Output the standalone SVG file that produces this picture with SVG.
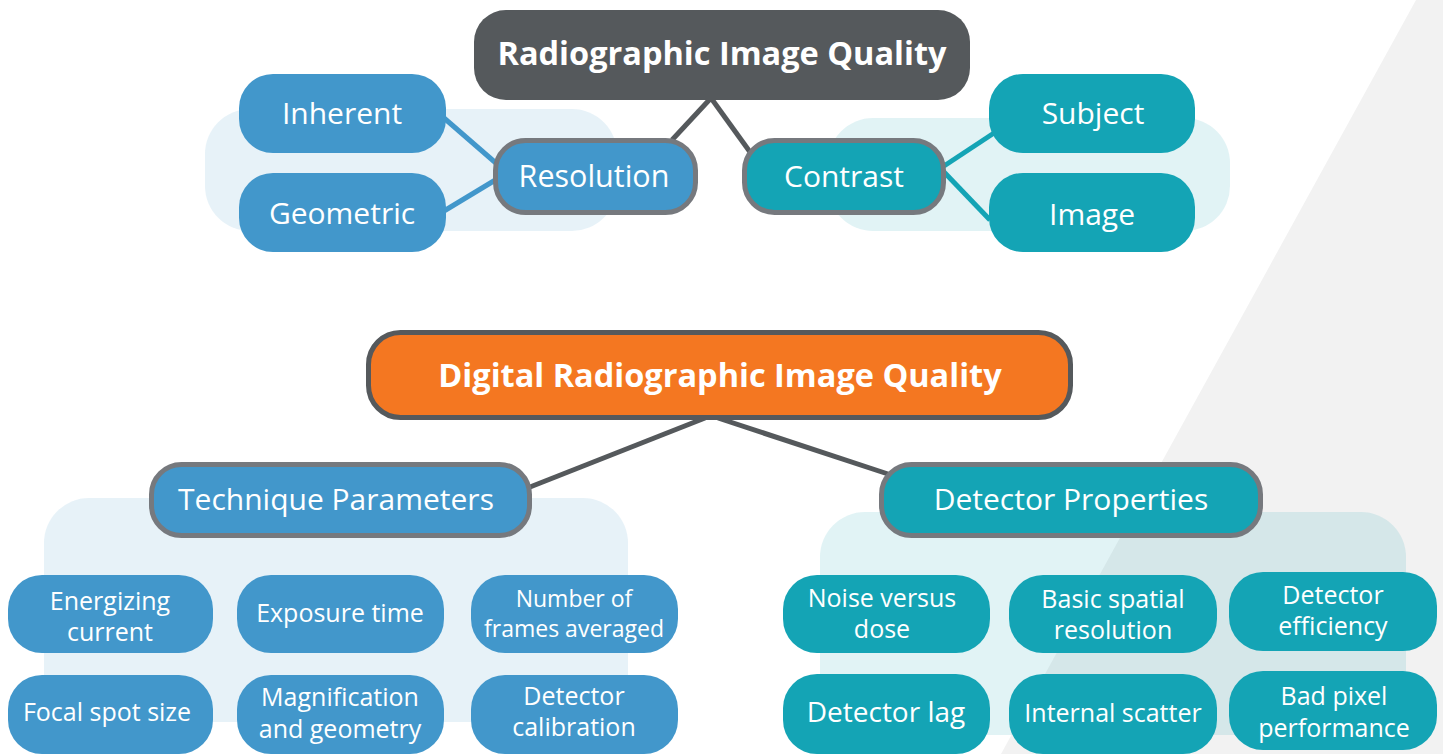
<svg xmlns="http://www.w3.org/2000/svg" width="1443" height="754" viewBox="0 0 1443 754">
<style>
.t{font-family:"Open Sans","Noto Sans",sans-serif;fill:#fff;text-anchor:middle}
.b{font-weight:bold}
.blue{fill:#4297cb}
.teal{fill:#14a4b5}
.pb{fill:#4297cb;fill-opacity:0.13}
.pt{fill:#14a4b5;fill-opacity:0.13}
.ring{stroke:#76797e;stroke-width:5}
.cg{stroke:#55595c;stroke-width:5;fill:none}
.cb{stroke:#4297cb;stroke-width:5;fill:none}
.ct{stroke:#14a4b5;stroke-width:5;fill:none}
</style>
<rect width="1443" height="754" fill="#fff"/>
<polygon points="1416,0 1443,0 1443,754 1001,754" fill="#f2f2f2"/>
<g id="panels">
<rect class="pb" x="205" y="109" width="412" height="122" rx="45"/>
<rect class="pt" x="828" y="118" width="402" height="113" rx="45"/>
<rect class="pb" x="44" y="498" width="584" height="224" rx="45"/>
<rect class="pt" x="820" y="512" width="586" height="223" rx="45"/>
</g>
<g id="connectors">
<line class="cg" x1="711" y1="98" x2="672" y2="140"/>
<line class="cg" x1="711" y1="98" x2="750" y2="152"/>
<line class="cb" x1="444" y1="118" x2="497" y2="164"/>
<line class="cb" x1="444" y1="211" x2="497" y2="179"/>
<line class="ct" x1="944" y1="166" x2="994" y2="133"/>
<line class="ct" x1="944" y1="172" x2="990" y2="220"/>
<line class="cg" x1="705" y1="418" x2="530" y2="487"/>
<line class="cg" x1="718" y1="418" x2="888" y2="474"/>
</g>
<g id="title1">
<rect x="474" y="10" width="496" height="90" rx="32" fill="#55595c"/>
<text class="t b" x="722" y="65" font-size="32.5">Radiographic Image Quality</text>
</g>
<g id="inherent"><rect class="blue" x="239" y="74" width="207" height="79" rx="34"/><text class="t" x="342" y="124" font-size="30">Inherent</text></g>
<g id="geometric"><rect class="blue" x="239" y="173" width="207" height="79" rx="34"/><text class="t" x="342" y="224" font-size="30">Geometric</text></g>
<g id="resolution"><rect class="blue ring" x="495.5" y="140.5" width="200" height="72" rx="30"/><text class="t" x="594" y="187" font-size="30.5">Resolution</text></g>
<g id="contrast"><rect class="teal ring" x="744.5" y="140.5" width="199" height="72" rx="30"/><text class="t" x="844" y="187" font-size="30">Contrast</text></g>
<g id="subject"><rect class="teal" x="989" y="74" width="206" height="79" rx="34"/><text class="t" x="1093" y="124" font-size="30">Subject</text></g>
<g id="image"><rect class="teal" x="989" y="173" width="206" height="79" rx="34"/><text class="t" x="1092" y="225" font-size="30">Image</text></g>
<g id="title2">
<rect x="368.5" y="332.5" width="702" height="85" rx="32" fill="#f47721" stroke="#55595c" stroke-width="5"/>
<text class="t b" x="720" y="387" font-size="32.5">Digital Radiographic Image Quality</text>
</g>
<g id="technique"><rect class="blue ring" x="151.5" y="464.5" width="378" height="71" rx="30"/><text class="t" x="336" y="510" font-size="30">Technique Parameters</text></g>
<g id="detector"><rect class="teal ring" x="881.5" y="464.5" width="379" height="71" rx="30"/><text class="t" x="1071" y="510" font-size="30">Detector Properties</text></g>
<g id="energizing"><rect class="blue" x="8" y="575" width="205" height="78" rx="34"/><text class="t" font-size="25"><tspan x="110" y="610">Energizing</tspan><tspan x="110" y="641">current</tspan></text></g>
<g id="exposure"><rect class="blue" x="237" y="575" width="207" height="78" rx="34"/><text class="t" x="340" y="622" font-size="25">Exposure time</text></g>
<g id="frames"><rect class="blue" x="471" y="575" width="207" height="78" rx="34"/><text class="t" font-size="23"><tspan x="574" y="607">Number of</tspan><tspan x="574" y="637">frames averaged</tspan></text></g>
<g id="focal"><rect class="blue" x="8" y="675" width="205" height="79" rx="34"/><text class="t" x="107" y="721" font-size="25">Focal spot size</text></g>
<g id="magnification"><rect class="blue" x="237" y="675" width="207" height="79" rx="34"/><text class="t" font-size="25"><tspan x="340" y="706">Magnification</tspan><tspan x="340" y="738">and geometry</tspan></text></g>
<g id="calibration"><rect class="blue" x="471" y="675" width="207" height="79" rx="34"/><text class="t" font-size="25"><tspan x="574" y="705">Detector</tspan><tspan x="574" y="736">calibration</tspan></text></g>
<g id="noise"><rect class="teal" x="783" y="575" width="207" height="78" rx="34"/><text class="t" font-size="25"><tspan x="882" y="607">Noise versus</tspan><tspan x="882" y="638">dose</tspan></text></g>
<g id="spatial"><rect class="teal" x="1009" y="575" width="208" height="78" rx="34"/><text class="t" font-size="25"><tspan x="1113" y="608">Basic spatial</tspan><tspan x="1113" y="639">resolution</tspan></text></g>
<g id="efficiency"><rect class="teal" x="1229" y="572" width="208" height="79" rx="34"/><text class="t" font-size="25"><tspan x="1333" y="604">Detector</tspan><tspan x="1333" y="635">efficiency</tspan></text></g>
<g id="lag"><rect class="teal" x="783" y="674" width="207" height="80" rx="34"/><text class="t" x="886" y="722" font-size="28">Detector lag</text></g>
<g id="scatter"><rect class="teal" x="1009" y="674" width="208" height="80" rx="34"/><text class="t" x="1113" y="722" font-size="25">Internal scatter</text></g>
<g id="badpixel"><rect class="teal" x="1229" y="671" width="208" height="79" rx="34"/><text class="t" font-size="25"><tspan x="1334" y="705">Bad pixel</tspan><tspan x="1334" y="737">performance</tspan></text></g>
</svg>
